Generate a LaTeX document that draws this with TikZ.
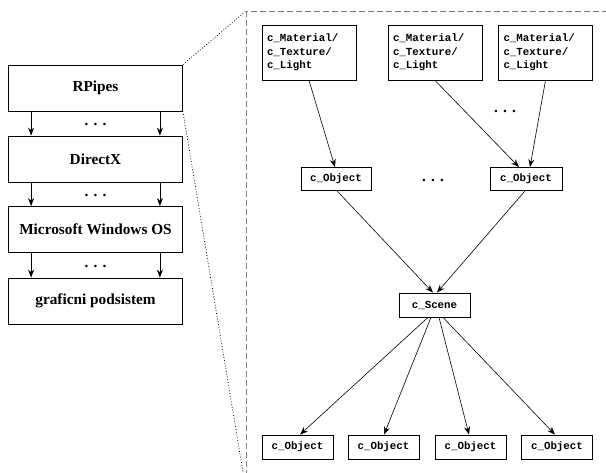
\documentclass[tikz,border=0pt]{standalone}
\usepackage{fontspec}
\setmainfont{Liberation Serif}
\newfontfamily\codefont{Liberation Mono}
\usetikzlibrary{arrows.meta}
\begin{document}
\begin{tikzpicture}[x=1pt,y=-1pt,
  layer/.style={draw,line width=0.8pt,minimum width=174pt,minimum height=46pt,inner sep=0pt,
    font=\fontsize{15.3}{18}\selectfont\bfseries},
  cls/.style={draw,line width=0.8pt,inner sep=0pt,font=\codefont\bfseries\fontsize{10.8}{13.3}\selectfont},
  mat/.style={cls,minimum width=94pt,minimum height=55pt,align=left,text width=84pt},
  obj/.style={cls,minimum width=71pt,minimum height=23pt},
  arr/.style={-{Stealth[length=8pt,width=6pt]},line width=0.6pt},
  dotsn/.style={font=\fontsize{15.3}{18}\selectfont\bfseries,inner sep=0pt},
  link/.style={dotted,line width=0.8pt}]
\useasboundingbox (0,0) rectangle (606,472);
\begin{scope}
\clip (0,0) rectangle (606,472);
\draw[gray,line width=1pt,dash pattern=on 6pt off 3pt] (246,11) rectangle (640,500);
\end{scope}
\coordinate (fc) at (246,11);
\coordinate (fb) at (243,472);

% left stack
\node[layer] (rp) at (95.5,88) {RPipes};
\node[layer] (dx) at (95.5,159) {DirectX};
\node[layer] (ms) at (95.5,229.5) {Microsoft Windows OS};
\node[layer] (gp) at (95.5,301) {graficni podsistem};

\foreach \a/\b in {rp/dx,ms/gp,dx/ms}{
  \draw[arr] ([xshift=23pt]\a.south west) -- ([xshift=23pt]\b.north west);
  \draw[arr] ([xshift=-23pt]\a.south east) -- ([xshift=-23pt]\b.north east);
}
\node[dotsn] (d1) at (95.5,124) {.\,\,.\,\,.};
\node[dotsn] (d2) at (95.5,195) {.\,\,.\,\,.};
\node[dotsn] (d3) at (95.5,266) {.\,\,.\,\,.};

\draw[link] (rp.north east) -- (fc);
\draw[link] (rp.south east) -- (fb);

% right detail
\node[mat] (m1) at (309,52.5) {c\_Material/\\c\_Texture/\\c\_Light};
\node[mat] (m2) at (435,52.5) {c\_Material/\\c\_Texture/\\c\_Light};
\node[mat] (m3) at (545.5,52.5) {c\_Material/\\c\_Texture/\\c\_Light};

\node[obj,minimum width=70pt] (o1) at (336,179) {c\_Object};
\node[obj,minimum width=72pt] (o2) at (526,179) {c\_Object};
\node[dotsn] (d4) at (433,180) {.\,\,.\,\,.};
\node[dotsn] (d5) at (505,111) {.\,\,.\,\,.};

\node[obj,minimum height=24pt] (sc) at (434.5,305) {c\_Scene};

\node[obj,minimum height=24pt] (b1) at (297.5,447) {c\_Object};
\node[obj,minimum height=24pt] (b2) at (383.5,447) {c\_Object};
\node[obj,minimum height=24pt] (b3) at (470.5,447) {c\_Object};
\node[obj,minimum height=24pt] (b4) at (557,447) {c\_Object};

\draw[arr] (m1.south) -- ([xshift=-1pt]o1.north);
\draw[arr] (m2.south) -- ([xshift=-7pt]o2.north);
\draw[arr] (m3.south) -- ([xshift=4pt]o2.north);

\draw[arr] ([xshift=1pt]o1.south) -- ([xshift=-1.5pt]sc.north);
\draw[arr] ([xshift=-1pt]o2.south) -- ([xshift=2.5pt]sc.north);

\draw[arr] ([xshift=-6.5pt]sc.south) -- ([xshift=2.5pt]b1.north);
\draw[arr] ([xshift=-3.5pt]sc.south) -- ([xshift=0.5pt]b2.north);
\draw[arr] ([xshift=4.5pt]sc.south) -- ([xshift=-1.5pt]b3.north);
\draw[arr] ([xshift=8.5pt]sc.south) -- ([xshift=-2pt]b4.north);
\end{tikzpicture}
\end{document}
